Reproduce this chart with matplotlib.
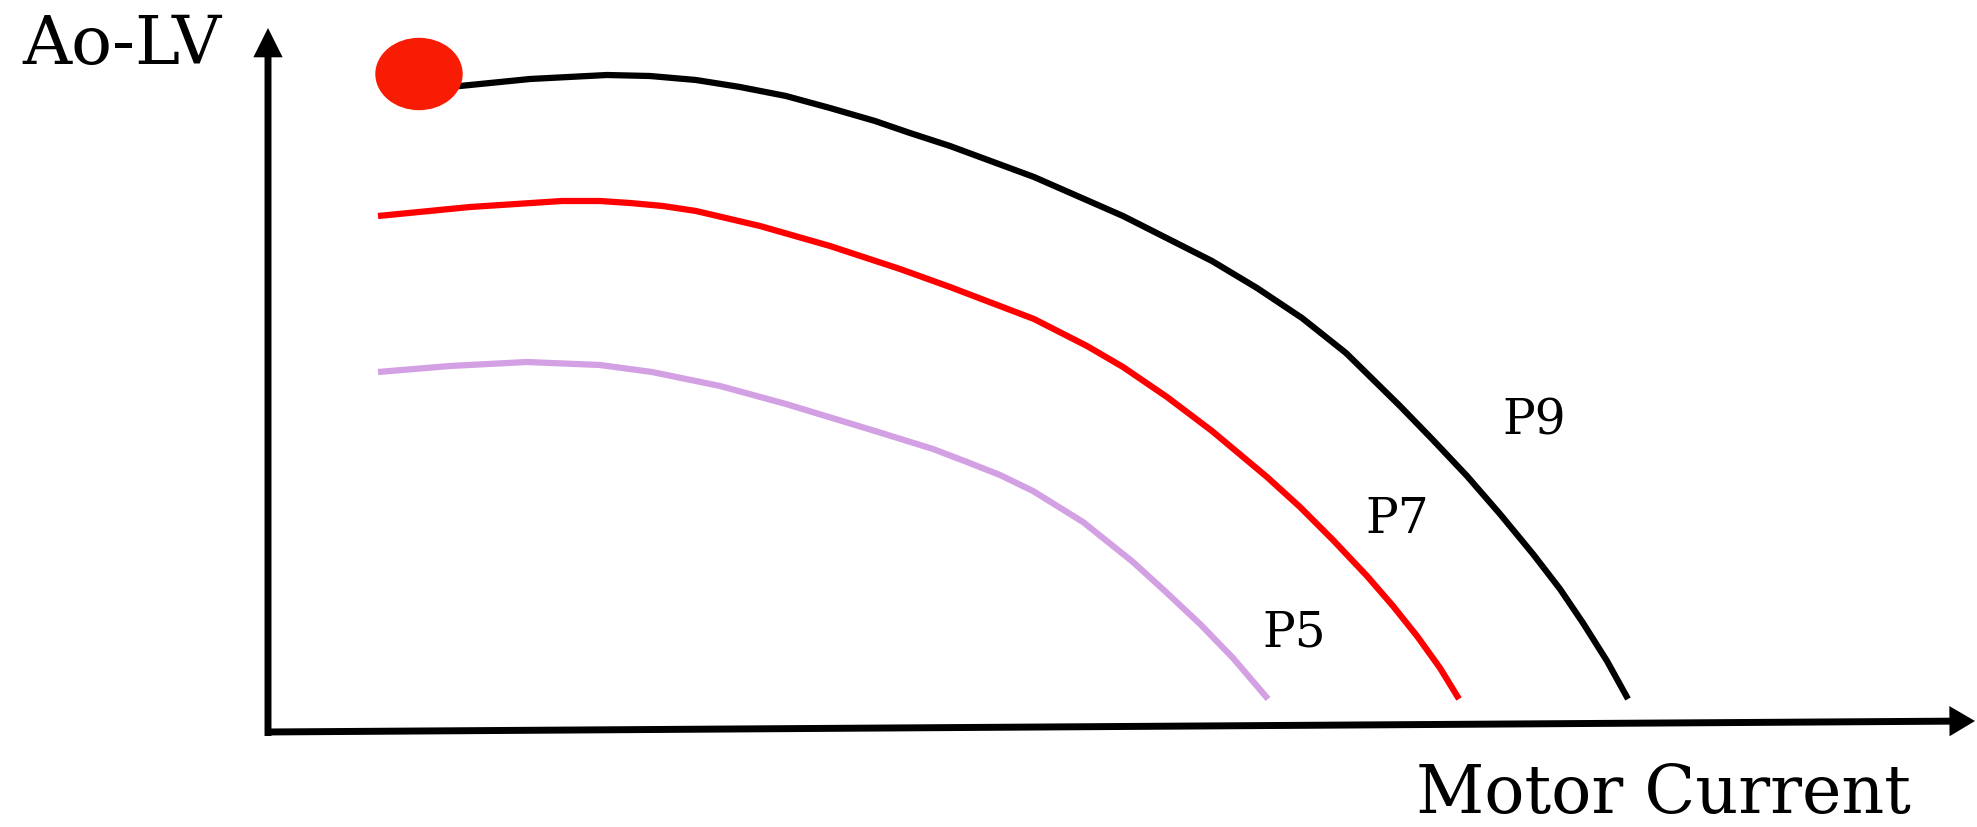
import matplotlib
matplotlib.use("Agg")
import matplotlib.pyplot as plt
from matplotlib.patches import Ellipse, FancyArrowPatch

plt.rcParams['font.family'] = ['DejaVu Serif']

# curve points (pixel coords, y down)
p9_x = [430, 460, 530, 607, 650, 696, 740, 786, 830, 875, 910, 950, 1034, 1123,
        1212, 1257, 1302, 1346, 1400, 1433, 1467, 1500, 1533, 1560, 1583, 1607, 1628]
p9_y = [89, 87, 80, 76, 77, 81, 88, 97, 109, 122, 134, 147, 178, 217,
        262, 289, 319, 354, 407, 441, 477, 515, 555, 590, 624, 662, 700]

p7_x = [378, 470, 562, 600, 630, 663, 696, 760, 830, 900, 950, 1034, 1087, 1123,
        1167, 1212, 1267, 1300, 1333, 1367, 1393, 1417, 1440, 1459]
p7_y = [217, 208, 202, 202, 204, 207, 212, 227, 247, 270, 288, 320, 347, 368,
        398, 432, 478, 508, 541, 577, 607, 637, 669, 700]

p5_x = [378, 450, 527, 600, 652, 720, 786, 875, 933, 967, 1000, 1033, 1083,
        1133, 1167, 1200, 1233, 1268]
p5_y = [373, 367, 363, 366, 373, 387, 405, 432, 450, 463, 476, 492, 523,
        563, 594, 625, 659, 700]

curve_labels = ['P9', 'P7', 'P5']
label_x = [1502, 1365, 1262]
label_y = [435, 533, 647]

W, H = 1977, 828

fig = plt.figure(figsize=(W / 100, H / 100), dpi=100)
ax = fig.add_axes([0, 0, 1, 1])
ax.set_xlim(0, W)
ax.set_ylim(H, 0)
ax.axis('off')

# axes with arrows
arrow_y = FancyArrowPatch((268, 737), (268, 29), arrowstyle='-|>,head_length=13,head_width=6.5',
                          mutation_scale=1, lw=5, color='black', shrinkA=0, shrinkB=0,
                          joinstyle='miter', capstyle='butt')
arrow_x = FancyArrowPatch((265, 733), (1975, 722), arrowstyle='-|>,head_length=11,head_width=6.5',
                          mutation_scale=1, lw=5, color='black', shrinkA=0, shrinkB=0,
                          joinstyle='miter', capstyle='butt')
ax.add_patch(arrow_y)
ax.add_patch(arrow_x)

# curves
ax.plot(p5_x, p5_y, color='#d4a0e4', lw=4.5, solid_capstyle='butt', solid_joinstyle='round')
ax.plot(p7_x, p7_y, color='#ff0000', lw=4.5, solid_capstyle='butt', solid_joinstyle='round')
ax.plot(p9_x, p9_y, color='black', lw=4.5, solid_capstyle='butt', solid_joinstyle='round')

# operating point marker
ax.add_patch(Ellipse((419, 75), 86, 71, color='#f91c05', zorder=5))

for lab, x, y in zip(curve_labels, label_x, label_y):
    ax.text(x, y, lab, fontsize=35, ha='left', va='baseline')

ax.text(22, 64, 'Ao-LV', fontsize=49, ha='left', va='baseline')
ax.text(1416, 813, 'Motor Current', fontsize=48, ha='left', va='baseline')

fig.savefig('out.png', dpi=100)
